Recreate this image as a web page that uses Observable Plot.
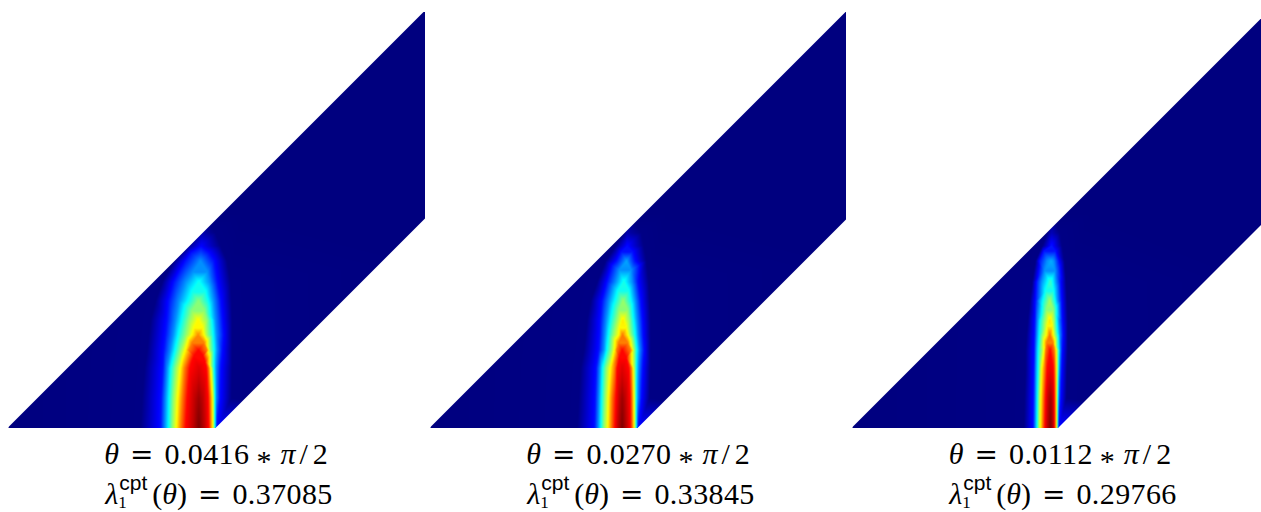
<!DOCTYPE html>
<html><head><meta charset="utf-8">
<script src="https://cdn.jsdelivr.net/npm/d3@7"></script>
<script src="https://cdn.jsdelivr.net/npm/@observablehq/plot@0.6"></script>
<style>
html,body{margin:0;padding:0;background:#fff;width:1261px;height:512px;overflow:hidden}
#wrap{position:relative;width:1261px;height:512px;overflow:hidden}
.panel{position:absolute;top:0}
.panel svg{display:block;max-width:none}
.cap{position:absolute;width:420px;text-align:center;font-family:"Liberation Serif",serif;font-size:30px;color:#000;line-height:39px;white-space:pre}
.cap i{font-style:italic}
.num{letter-spacing:.4px}
.eq{font-family:"DejaVu Sans",sans-serif;font-size:28px;margin:0 11px}
.ast{position:relative;top:7px;margin:0 9px 0 7px}
.pi{margin-right:4px}
.sl{margin-right:5px}
.l2{position:relative;left:3px}
.ss{display:inline-block;position:relative;width:34px;height:10px}
.ss b{position:absolute;left:1px;top:-21px;font:400 21px/20px "Liberation Sans",sans-serif}
.ss u{position:absolute;left:0;top:0;font-size:17px;line-height:18px;text-decoration:none}
</style></head><body><div id="wrap"></div>
<script>
// Contour levels of the colour field (0 = navy, 1 = dark red)
const levels=[0.005,0.125,0.25,0.375,0.5,0.625,0.75,0.875];
// Heights above the bottom edge at which contours were read
const rowHeights=[0,30,60,78,93,108,127,146,167,182,195];
const jetStops=[0,0.11,0.36,0.62,0.88,1];
const jetColors=["#00007f","#0000ff","#00ffff","#ffff00","#ff0000","#7f0000"];
const titles=["0.0416","0.0270","0.0112"];
const lambdas=["0.37085","0.33845","0.29766"];
const panelLeft=[8,430,852];
const panelWidth=[417,416,409];
const bottomWidth=[208,208,206.5];
const xBase=[122,140,158];

const ridgeX1=[205,205,205,204,203,203,204,205,210,212,215];
const ridgeV1=[1,0.97,0.91,0.875,0.74,0.625,0.5,0.375,0.25,0.11,0.04];
const left1=[
[30,90,103,115,125,138,150,165],
[35,92,105,117,128,142,155,170],
[42,97,110,122,135,150,162,178],
[50,100,120,135,150,165,175,null],
[55,105,128,145,165,185,null,null],
[60,110,135,155,175,null,null,null],
[75,115,145,175,null,null,null,null],
[95,130,165,null,null,null,null,null],
[130,165,null,null,null,null,null,null],
[170,null,null,null,null,null,null,null],
[200,null,null,null,null,null,null,null]];
const right1=[
[null,258,256,253,250,247,241,235],
[303,268,257,253,250,246,240,233],
[305,270,257,250,246,240,235,228],
[305,275,260,250,240,235,229,null],
[305,278,258,247,232,220,null,null],
[305,275,255,243,230,null,null,null],
[303,270,250,232,null,null,null,null],
[300,260,238,null,null,null,null,null],
[290,250,null,null,null,null,null,null],
[270,null,null,null,null,null,null,null],
[255,null,null,null,null,null,null,null]];
// Extra contour readings: [level, height, left, right]
const dome1=[[0.94,0,188,222],[0.94,30,193,217],
[0.875,66,183,224],[0.875,72,190,218],[0.75,85,184,221],
[0.625,100,191,216],[0.5,117,184,222],
[0.375,136,185,225],[0.25,156,187,231],[0.125,175,182,234]];

const ridgeX2=[155,155,155,155,156,157,158,160,168,170,170];
const ridgeV2=[1,0.97,0.91,0.875,0.76,0.64,0.515,0.385,0.27,0.12,0.04];
const left2=[
[20,72,83,92,100,112,122,133],
[25,74,85,94,103,114,124,136],
[30,77,88,97,107,120,132,140],
[40,85,100,110,122,132,138,null],
[45,88,103,115,128,145,null,null],
[50,90,107,122,138,null,null,null],
[60,95,115,135,null,null,null,null],
[80,110,135,null,null,null,null,null],
[105,138,null,null,null,null,null,null],
[135,null,null,null,null,null,null,null],
[160,null,null,null,null,null,null,null]];
const right2=[
[null,203,200,197,194,191,186,180],
[238,212,202,197,194,190,185,179],
[240,216,204,197,193,188,183,175],
[240,220,207,198,192,187,180,null],
[240,217,203,193,182,172,null,null],
[240,215,200,188,177,null,null,null],
[238,210,195,180,null,null,null,null],
[235,202,185,null,null,null,null,null],
[228,193,null,null,null,null,null,null],
[220,null,null,null,null,null,null,null],
[212,null,null,null,null,null,null,null]];
const dome2=[[0.94,0,142,168],[0.94,30,147,164],
[0.875,70,146,168],[0.75,85,144,172],
[0.625,100,148,167],[0.5,118,145,172],
[0.375,137,143,175],[0.25,158,146,182],[0.125,176,152,186]];

const ridgeX3=[120,120,120,119,118,118,118,119,122,123,123];
const ridgeV3=[1,0.97,0.9,0.875,0.77,0.65,0.53,0.42,0.28,0.13,0.05];
const left3=[
[40,68,74,80,84,90,96,103],
[42,69,75,81,85,91,98,105],
[45,70,76,83,88,94,102,110],
[45,71,77,84,93,101,105,null],
[48,72,79,87,95,108,null,null],
[52,73,81,90,102,null,null,null],
[58,75,85,98,null,null,null,null],
[65,78,93,113,null,null,null,null],
[75,87,110,null,null,null,null,null],
[95,null,null,null,null,null,null,null],
[110,null,null,null,null,null,null,null]];
const right3=[
[null,145,143,141.5,140,138,135,132],
[168,150,144,142,140,138,135,131],
[170,153,147,144,141,138,134,129],
[172,155,149,145,141,137,132,null],
[172,157,148,142,135,128,null,null],
[172,155,145,138,132,null,null,null],
[170,153,142,133,null,null,null,null],
[167,150,137,125,null,null,null,null],
[162,145,130,null,null,null,null,null],
[155,null,null,null,null,null,null,null],
[148,null,null,null,null,null,null,null]];
const dome3=[[0.94,0,110,128],[0.94,30,113,126],
[0.75,85,108,128],[0.625,102,111,125],[0.5,118,107,129],
[0.375,137,105,129],[0.25,157,102,134],[0.125,177,100,135]];

const series=[[ridgeX1,ridgeV1,left1,right1,dome1],[ridgeX2,ridgeV2,left2,right2,dome2],[ridgeX3,ridgeV3,left3,right3,dome3]];

function samples(i){
  const [rx,rv,L,R,D]=series[i],toX=z=>xBase[i]+z/3,pts=[];
  rowHeights.forEach((h,r)=>{
    pts.push({x:toX(rx[r]),h,v:rv[r]});
    levels.forEach((lv,k)=>{
      if(L[r][k]!=null)pts.push({x:toX(L[r][k]),h,v:lv});
      if(R[r][k]!=null)pts.push({x:toX(R[r][k]),h,v:lv});
    });
    pts.push({x:0,h,v:0},{x:417,h,v:0});
  });
  D.forEach(([v,h,a,b])=>pts.push({x:toX(a),h,v},{x:toX(b),h,v}));
  const top=toX(rx[rx.length-1]);
  pts.push({x:top,h:215,v:0},{x:top-30,h:215,v:0},{x:top+40,h:215,v:0},{x:0,h:416,v:0},{x:417,h:416,v:0},{x:top,h:416,v:0});
  return pts;
}
const wrap=document.getElementById("wrap");
panelLeft.forEach((left,i)=>{
  const w=panelWidth[i],b=bottomWidth[i];
  const svg=Plot.plot({
    width:w,height:428,margin:0,
    x:{domain:[0,w],range:[0,w],axis:null},
    y:{domain:[0,427.5],range:[427.5,0],axis:null},
    color:{type:"linear",domain:jetStops,range:jetColors,clamp:true},
    marks:[
      Plot.raster(samples(i),{x:"x",y:"h",fill:"v",interpolate:"barycentric",x1:0,x2:w,y1:0,y2:416,pixelSize:1,imageRendering:"auto"}),
      // white regions outside the parallelogram
      Plot.areaY([0,w],{x:d=>d,y1:d=>d,y2:()=>428,fill:"white"}),
      Plot.areaY([b,w],{x:d=>d,y1:()=>-1,y2:d=>d-b,fill:"white"})
    ]
  });
  const d=document.createElement("div");d.className="panel";d.style.left=left+"px";d.appendChild(svg);wrap.appendChild(d);
  const c=document.createElement("div");c.className="cap";
  c.style.left=(left+208-210)+"px";c.style.top="434px";
  c.innerHTML=`<i>θ</i><span class="eq">=</span><span class="num">${titles[i]}</span><span class="ast">*</span><i class="pi">π</i><span class="sl">/</span>2\n<span class="l2"><i>λ</i><span class="ss"><b>cpt</b><u>1</u></span>(<i>θ</i>)<span class="eq">=</span><span class="num">${lambdas[i]}</span></span>`;
  wrap.appendChild(c);
});
</script></body></html>
